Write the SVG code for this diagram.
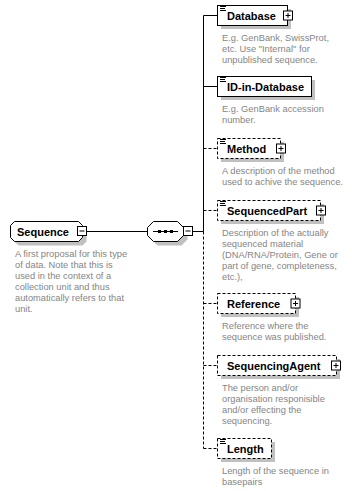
<svg xmlns="http://www.w3.org/2000/svg" width="352" height="491" viewBox="0 0 352 491">
  <style>
    .lbl { font-family: "Liberation Sans", Arial, sans-serif; font-weight: bold; font-size: 11px; fill: #000; }
    .doc { font-family: "Liberation Sans", Arial, sans-serif; font-size: 9.3px; fill: #858585; }
    .box { fill: #fff; stroke: #000; stroke-width: 1; }
    .opt { fill: #fff; stroke: #000; stroke-width: 1; stroke-dasharray: 3 2; }
    .shd { fill: #c0c0c0; stroke: none; }
    .pm { fill: #fff; stroke: #000; stroke-width: 1; }
    .sgn { stroke: #000; stroke-width: 1; fill: none; }
    .ico { stroke: #000; stroke-width: 1; }
    .ln { stroke: #000; stroke-width: 1; fill: none; }
    .dln { stroke: #000; stroke-width: 1; fill: none; stroke-dasharray: 3 2; }
  </style>
  <defs>
    <g id="plus">
      <rect class="pm" x="0.5" y="0.5" width="9" height="9"/>
      <path class="sgn" d="M2.5 5H7.5M5 2.5V7.5"/>
    </g>
    <g id="minus">
      <rect class="pm" x="0.5" y="0.5" width="9" height="9"/>
      <path class="sgn" d="M2.5 5H7.5"/>
    </g>
    <path id="docicon" class="ico" d="M220 6.5H226M220 8.5H225M220 10.5H226"/>
  </defs>

  <!-- connectors -->
  <g id="connectors">
    <path class="ln" d="M86 231.5H147"/>
    <path class="ln" d="M193 231.5H203.5"/>
    <path class="ln" d="M203.5 15.5V231.5"/>
    <path class="dln" d="M203.5 231.5V448.5"/>
    <path class="ln" d="M203.5 15.5H217"/>
    <path class="ln" d="M203.5 86.5H217"/>
    <path class="dln" d="M203.5 148.5H217"/>
    <path class="dln" d="M203.5 210.5H217"/>
    <path class="dln" d="M203.5 303.5H217"/>
    <path class="dln" d="M203.5 365.5H217"/>
    <path class="dln" d="M203.5 448.5H217"/>
  </g>

  <!-- root element -->
  <g id="Sequence">
    <path class="shd" d="M18.5 225.5H82.5L86.5 229.5V241.5L82.5 245.5H18.5L14.5 241.5V229.5Z"/>
    <path class="box" d="M14.5 221.5H78.5L82.5 225.5V237.5L78.5 241.5H14.5L10.5 237.5V225.5Z"/>
    <text class="lbl" x="17" y="235.5">Sequence</text>
    <use href="#minus" x="77" y="226"/>
    <text class="doc">
      <tspan x="15" y="257">A first proposal for this type</tspan>
      <tspan x="15" y="268">of data. Note that this is</tspan>
      <tspan x="15" y="279">used in the context of a</tspan>
      <tspan x="15" y="290">collection unit and thus</tspan>
      <tspan x="15" y="301">automatically refers to that</tspan>
      <tspan x="15" y="312">unit.</tspan>
    </text>
  </g>

  <!-- sequence compositor -->
  <g id="seq-compositor">
    <path class="shd" d="M157.5 225.5H181.5L187.5 231.5V239.5L181.5 245.5H157.5L151.5 239.5V231.5Z"/>
    <path class="box" d="M153.5 221.5H177.5L183.5 227.5V235.5L177.5 241.5H153.5L147.5 235.5V227.5Z"/>
    <path class="ln" d="M153 231.5H178"/>
    <rect x="158" y="230" width="3" height="3" fill="#000"/>
    <rect x="164" y="230" width="3" height="3" fill="#000"/>
    <rect x="170" y="230" width="3" height="3" fill="#000"/>
    <use href="#minus" x="183" y="226"/>
  </g>

  <!-- child elements -->
  <g id="Database">
    <rect class="shd" x="221" y="9" width="70" height="20"/>
    <rect class="box" x="217.5" y="5.5" width="70" height="20"/>
    <use href="#docicon"/>
    <text class="lbl" x="227" y="19.5">Database</text>
    <use href="#plus" x="283" y="10.5"/>
    <text class="doc">
      <tspan x="222" y="41">E.g. GenBank, SwissProt,</tspan>
      <tspan x="222" y="52">etc. Use "Internal" for</tspan>
      <tspan x="222" y="63">unpublished sequence.</tspan>
    </text>
  </g>

  <g id="ID-in-Database">
    <rect class="shd" x="221" y="80" width="94" height="20"/>
    <rect class="box" x="217.5" y="76.5" width="94" height="20"/>
    <use href="#docicon" y="71"/>
    <text class="lbl" x="227" y="90.5">ID-in-Database</text>
    <text class="doc">
      <tspan x="222" y="112">E.g. GenBank accession</tspan>
      <tspan x="222" y="123">number.</tspan>
    </text>
  </g>

  <g id="Method">
    <rect class="shd" x="221" y="142" width="63" height="20"/>
    <rect class="opt" x="217.5" y="138.5" width="63" height="20"/>
    <use href="#docicon" y="133"/>
    <text class="lbl" x="227" y="152.5">Method</text>
    <use href="#plus" x="276" y="143.5"/>
    <text class="doc">
      <tspan x="222" y="174">A description of the method</tspan>
      <tspan x="222" y="185">used to achive the sequence.</tspan>
    </text>
  </g>

  <g id="SequencedPart">
    <rect class="shd" x="221" y="204" width="103" height="20"/>
    <rect class="opt" x="217.5" y="200.5" width="103" height="20"/>
    <use href="#docicon" y="195"/>
    <text class="lbl" x="227" y="214.5">SequencedPart</text>
    <use href="#plus" x="316" y="205.5"/>
    <text class="doc">
      <tspan x="222" y="236">Description of the actually</tspan>
      <tspan x="222" y="247">sequenced material</tspan>
      <tspan x="222" y="258">(DNA/RNA/Protein, Gene or</tspan>
      <tspan x="222" y="269">part of gene, completeness,</tspan>
      <tspan x="222" y="280">etc.),</tspan>
    </text>
  </g>

  <g id="Reference">
    <rect class="shd" x="221" y="297" width="78" height="20"/>
    <rect class="opt" x="217.5" y="293.5" width="78" height="20"/>
    <text class="lbl" x="227" y="307.5">Reference</text>
    <use href="#plus" x="290.5" y="298.5"/>
    <text class="doc">
      <tspan x="222" y="329">Reference where the</tspan>
      <tspan x="222" y="340">sequence was published.</tspan>
    </text>
  </g>

  <g id="SequencingAgent">
    <rect class="shd" x="221" y="359" width="119" height="20"/>
    <rect class="opt" x="217.5" y="355.5" width="119" height="20"/>
    <text class="lbl" x="227" y="369.5">SequencingAgent</text>
    <use href="#plus" x="331" y="360.5"/>
    <text class="doc">
      <tspan x="222" y="391">The person and/or</tspan>
      <tspan x="222" y="402">organisation responisible</tspan>
      <tspan x="222" y="413">and/or effecting the</tspan>
      <tspan x="222" y="424">sequencing.</tspan>
    </text>
  </g>

  <g id="Length">
    <rect class="shd" x="221" y="442" width="54" height="20"/>
    <rect class="opt" x="217.5" y="438.5" width="54" height="20"/>
    <use href="#docicon" y="433"/>
    <text class="lbl" x="227" y="452.5">Length</text>
    <text class="doc">
      <tspan x="222" y="474">Length of the sequence in</tspan>
      <tspan x="222" y="485">basepairs</tspan>
    </text>
  </g>
</svg>
